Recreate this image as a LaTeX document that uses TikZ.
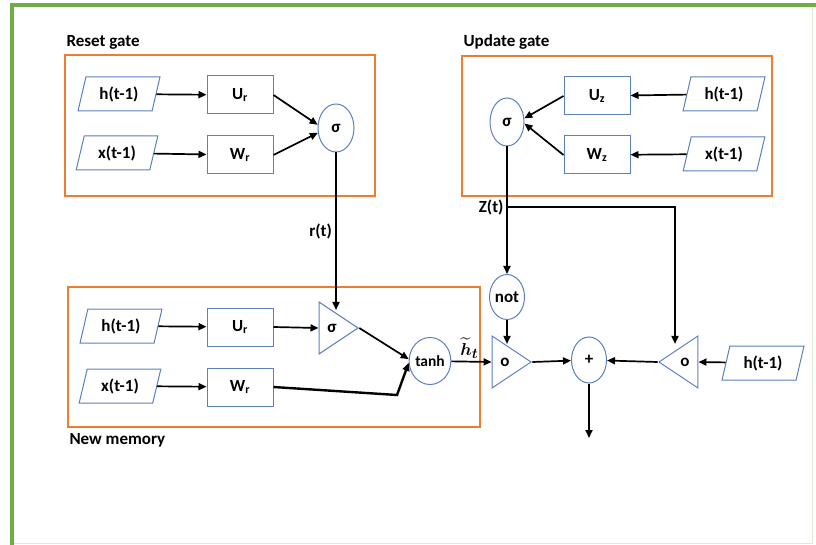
\documentclass[tikz,border=0pt]{standalone}
\usepackage{fontspec}
\usepackage{amsmath, amssymb, bm}
\setmainfont{Carlito}
\usetikzlibrary{shapes.geometric, arrows.meta, positioning}
\definecolor{gateorange}{HTML}{ED7D31}
\definecolor{shapeblue}{HTML}{5B7FBF}
\definecolor{framegreen}{HTML}{70AD47}

\begin{document}
\begin{tikzpicture}[x=1pt, y=-1pt,
    txt/.style={font=\bfseries\fontsize{17}{20}\selectfont},
    gate/.style={draw=gateorange, line width=1.2pt},
    para/.style={trapezium, trapezium left angle=73, trapezium right angle=107,
                 trapezium stretches=true, draw=shapeblue, line width=1pt,
                 minimum width=82pt, minimum height=34pt, inner sep=0pt, txt},
    wbox/.style={draw=shapeblue, line width=1pt, minimum width=66pt,
                 minimum height=38pt, inner sep=0pt, txt},
    ell/.style={ellipse, draw=shapeblue, line width=1pt, minimum width=36pt,
                minimum height=48pt, inner sep=0pt, txt},
    tri/.style={isosceles triangle, isosceles triangle stretches=true,
                draw=shapeblue, line width=1pt, minimum width=52pt,
                minimum height=39pt, inner sep=0pt, txt},
    arr/.style={-{Triangle[length=8pt, width=7pt]}, line width=1.7pt}
  ]
  \useasboundingbox (0,0) rectangle (816,545);

  % Frame
  \draw[framegreen!25, line width=1pt] (12,5) rectangle (812,543);
  \draw[framegreen, line width=3.5pt] (12,546) -- (12,5) -- (816,5);

  % Reset gate
  \draw[gate] (65,55) rectangle (375,196);
  \node[txt, anchor=west] (resetlbl) at (63,42) {Reset gate};
  \node[para] (rh) at (119,94)  {h(t-1)};
  \node[para] (rx) at (117,153) {x(t-1)};
  \node[wbox] (rU) at (240,95)  {U\textsubscript{r}};
  \node[wbox] (rW) at (240,155) {W\textsubscript{r}};
  \node[ell]  (rs) at (336,128) {σ};

  % Update gate
  \draw[gate] (462,56) rectangle (772,196);
  \node[txt, anchor=west] (updatelbl) at (460,42) {Update gate};
  \node[ell, minimum width=34pt] (us) at (507,122) {σ};
  \node[wbox] (uU) at (597,96)  {U\textsubscript{z}};
  \node[wbox] (uW) at (597,155) {W\textsubscript{z}};
  \node[para] (uh) at (724,94)  {h(t-1)};
  \node[para] (ux) at (724,154) {x(t-1)};

  % New memory
  \draw[gate] (68,287) rectangle (480,427);
  \node[txt, anchor=west] (memlbl) at (66,440) {New memory};
  \node[para] (nh) at (121,326) {h(t-1)};
  \node[para] (nx) at (120,386) {x(t-1)};
  \node[wbox] (nU) at (240,327) {U\textsubscript{r}};
  \node[wbox] (nW) at (240,387) {W\textsubscript{r}};
  \node[tri]  (nsig) at (332,328) {σ};
  \node[ell, minimum height=47pt, font=\bfseries\fontsize{15.5}{18}\selectfont] (tanh) at (430,361) {tanh};
  \coordinate (wbend) at (397,395);

  % Output
  \node[ell, minimum width=35pt, minimum height=45pt] (notg) at (507,297) {not};
  \node[tri] (ltri) at (505,362) {o};
  \node[ell, minimum width=35pt, minimum height=46pt] (plus) at (589,360) {+};
  \node[tri, shape border rotate=180] (rtri) at (685,362) {o};
  \node[para] (oh) at (763,363) {h(t-1)};
  \coordinate (zt)  at (507,207);
  \coordinate (zr)  at (675,207);
  \coordinate (out) at (589,438);

  % Arrows
  \draw[arr] (rh) -- (rU);
  \draw[arr] (rx) -- (rW);
  \draw[arr] (rU.east) -- (rs.170);
  \draw[arr] (rW.east) -- (rs.195);
  \draw[arr] (rs.south) -- node[txt, left]{r(t)} (rs.south |- nsig.north);

  \draw[arr] (uh) -- (uU);
  \draw[arr] (ux) -- (uW);
  \draw[arr] (uU.west) -- (us.12);
  \draw[arr] (uW.west) -- (us.-5);
  \draw[arr] (us.south) -- (notg.north);
  \node[txt, anchor=east] (zlbl) at (zt) {Z(t)};
  \draw[arr] (zt) -- (zr) -- (zr |- rtri.north);

  \draw[arr] (nh) -- (nU);
  \draw[arr] (nx) -- (nW);
  \draw[arr] (nU.east) -- (nsig.lower side);
  \draw[arr] (nsig.apex) -- (tanh.175);
  \draw[arr, line width=2.4pt] (nW.east) -- (wbend) -- (tanh.185);

  \draw[arr] (tanh) -- node[pos=0.45, above=1pt, inner sep=1pt, font=\fontsize{19}{22}\selectfont]
    {$\widetilde{\bm{h}}_{\bm{t}}$} (ltri.lower side);
  \draw[arr] (notg.south) -- (notg.south |- ltri.north);
  \draw[arr] (ltri.apex) -- (plus);
  \draw[arr] (rtri.apex) -- (plus);
  \draw[arr] (oh) -- (rtri.lower side);
  \draw[arr] (plus) -- (out);
\end{tikzpicture}
\end{document}
